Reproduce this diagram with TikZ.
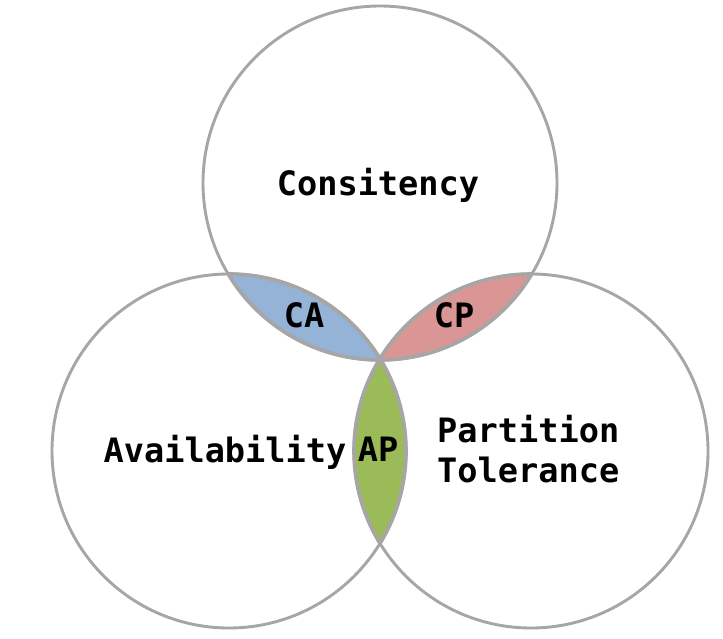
\documentclass[tikz,border=0pt]{standalone}
\usepackage{fontspec}
\newfontfamily\labfont{DejaVu Sans Mono}
\definecolor{ringgray}{HTML}{A6A6A6}
\definecolor{cablue}{HTML}{95B3D7}
\definecolor{cpred}{HTML}{D99694}
\definecolor{apgreen}{HTML}{9BBB59}
\begin{document}
\begin{tikzpicture}[x=1pt,y=-1pt,
  ring/.style={circle, draw=ringgray, line width=2.9pt, minimum size=354pt, inner sep=0pt},
  lab/.style={font=\labfont\bfseries\fontsize{33.6}{40}\selectfont, inner sep=0pt, text=black},
  lensedge/.style={draw=ringgray, line width=3.6pt}]
\useasboundingbox[fill=white] (0,0) rectangle (723,639);
\coordinate (cC) at (380,183);
\coordinate (cA) at (229,451);
\coordinate (cP) at (531,451);
% lens fills
\begin{scope}
  \clip (cC) circle[radius=177pt];
  \fill[cablue] (cA) circle[radius=177pt];
  \fill[cpred] (cP) circle[radius=177pt];
\end{scope}
\begin{scope}
  \clip (cA) circle[radius=177pt];
  \fill[apgreen] (cP) circle[radius=177pt];
\end{scope}
% circles
\node[ring] (C) at (cC) {};
\node[ring] (A) at (cA) {};
\node[ring] (P) at (cP) {};
% lens edges
\begin{scope}
  \clip (cC) circle[radius=177pt];
  \draw[lensedge] (cA) circle[radius=177pt];
  \draw[lensedge] (cP) circle[radius=177pt];
\end{scope}
\begin{scope}
  \clip (cA) circle[radius=177pt];
  \draw[lensedge] (cC) circle[radius=177pt];
  \draw[lensedge] (cP) circle[radius=177pt];
\end{scope}
\begin{scope}
  \clip (cP) circle[radius=177pt];
  \draw[lensedge] (cC) circle[radius=177pt];
  \draw[lensedge] (cA) circle[radius=177pt];
\end{scope}
% labels
\node[lab, anchor=base] (tC) at (378,196) {Consitency};
\node[lab, anchor=base] (tA) at (225,462) {Availability};
\node[lab, anchor=base] (tAP) at (378,461) {AP};
\node[lab, anchor=base] (tCA) at (304,327) {CA};
\node[lab, anchor=base] (tCP) at (454,327) {CP};
\node[lab, anchor=base west] (tP1) at (437,442) {Partition};
\node[lab, anchor=base west] (tP2) at (437,482) {Tolerance};
\end{tikzpicture}
\end{document}
